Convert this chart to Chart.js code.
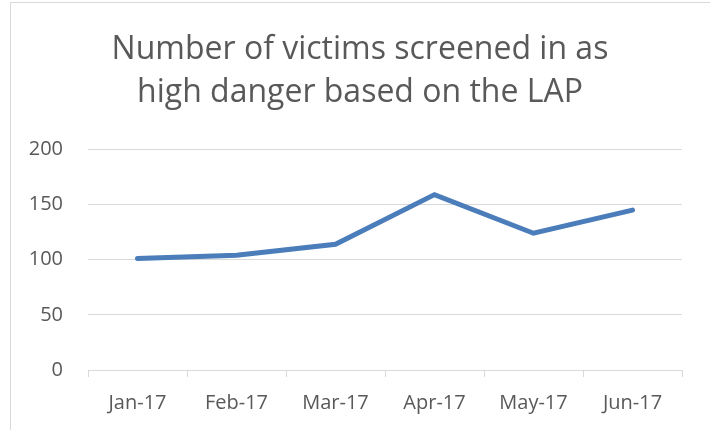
<!DOCTYPE html>
<html>
<head>
<meta charset="utf-8">
<script src="https://cdn.jsdelivr.net/npm/chart.js@4/dist/chart.umd.min.js"></script>
<style>
  html, body { margin: 0; padding: 0; background: #fff; }
  #wrap { position: relative; width: 710px; height: 430px; overflow: hidden; }
  #frame { position: absolute; left: 10px; top: 2px; width: 800px; height: 500px; border: 1px solid #d9d9d9; box-sizing: border-box; }
  #chart { position: absolute; left: 0; top: 0; }
</style>
</head>
<body>
<div id="wrap">
  <div id="frame"></div>
  <canvas id="chart" width="710" height="430"></canvas>
</div>
<script>
// Dados
const months = ['Jan-17', 'Feb-17', 'Mar-17', 'Apr-17', 'May-17', 'Jun-17'];
const victims = [101, 104, 114, 159, 124, 145];
const titleLines = ['Number of victims screened in as', 'high danger based on the LAP'];

const textColor = '#595959';
const gridColor = '#d9d9d9';

// o título fica centrado sobre a moldura, não sobre o canvas inteiro
const shiftTitle = {
    id: 'shiftTitle',
    afterLayout(chart) {
        if (chart.titleBlock) {
            chart.titleBlock.left = 38;
            chart.titleBlock.right = 682;
        }
    }
};

new Chart(document.getElementById('chart'), {
    type: 'line',
    data: {
        labels: months,
        datasets: [{
            label: 'Victims',
            data: victims,
            borderColor: '#4a7dba',
            borderWidth: 5,
            borderCapStyle: 'round',
            pointRadius: 0,
            tension: 0,
            fill: false
        }]
    },
    options: {
        responsive: false,
        animation: false,
        layout: {
            padding: { left: 0, right: 28, top: 0, bottom: 0 }
        },
        plugins: {
            legend: { display: false },
            tooltip: { enabled: false },
            title: {
                display: true,
                text: titleLines,
                color: textColor,
                font: { family: 'Open Sans', size: 32, weight: 'normal', lineHeight: 1.35 },
                padding: { top: 28, bottom: 35 }
            }
        },
        scales: {
            x: {
                offset: true,
                grid: {
                    offset: true,
                    drawOnChartArea: false,
                    color: gridColor,
                    tickLength: 7
                },
                border: { color: gridColor },
                ticks: {
                    color: textColor,
                    font: { family: 'Open Sans', size: 20 },
                    padding: 14,
                    maxRotation: 0
                },
                afterFit: (scale) => { scale.height = 60; }
            },
            y: {
                min: 0,
                max: 200,
                ticks: {
                    stepSize: 50,
                    color: textColor,
                    font: { family: 'Open Sans', size: 20 },
                    padding: 25
                },
                grid: {
                    color: gridColor,
                    drawTicks: false
                },
                border: { display: false },
                afterFit: (scale) => { scale.width = 88; }
            }
        }
    },
    plugins: [shiftTitle]
});
</script>
</body>
</html>
